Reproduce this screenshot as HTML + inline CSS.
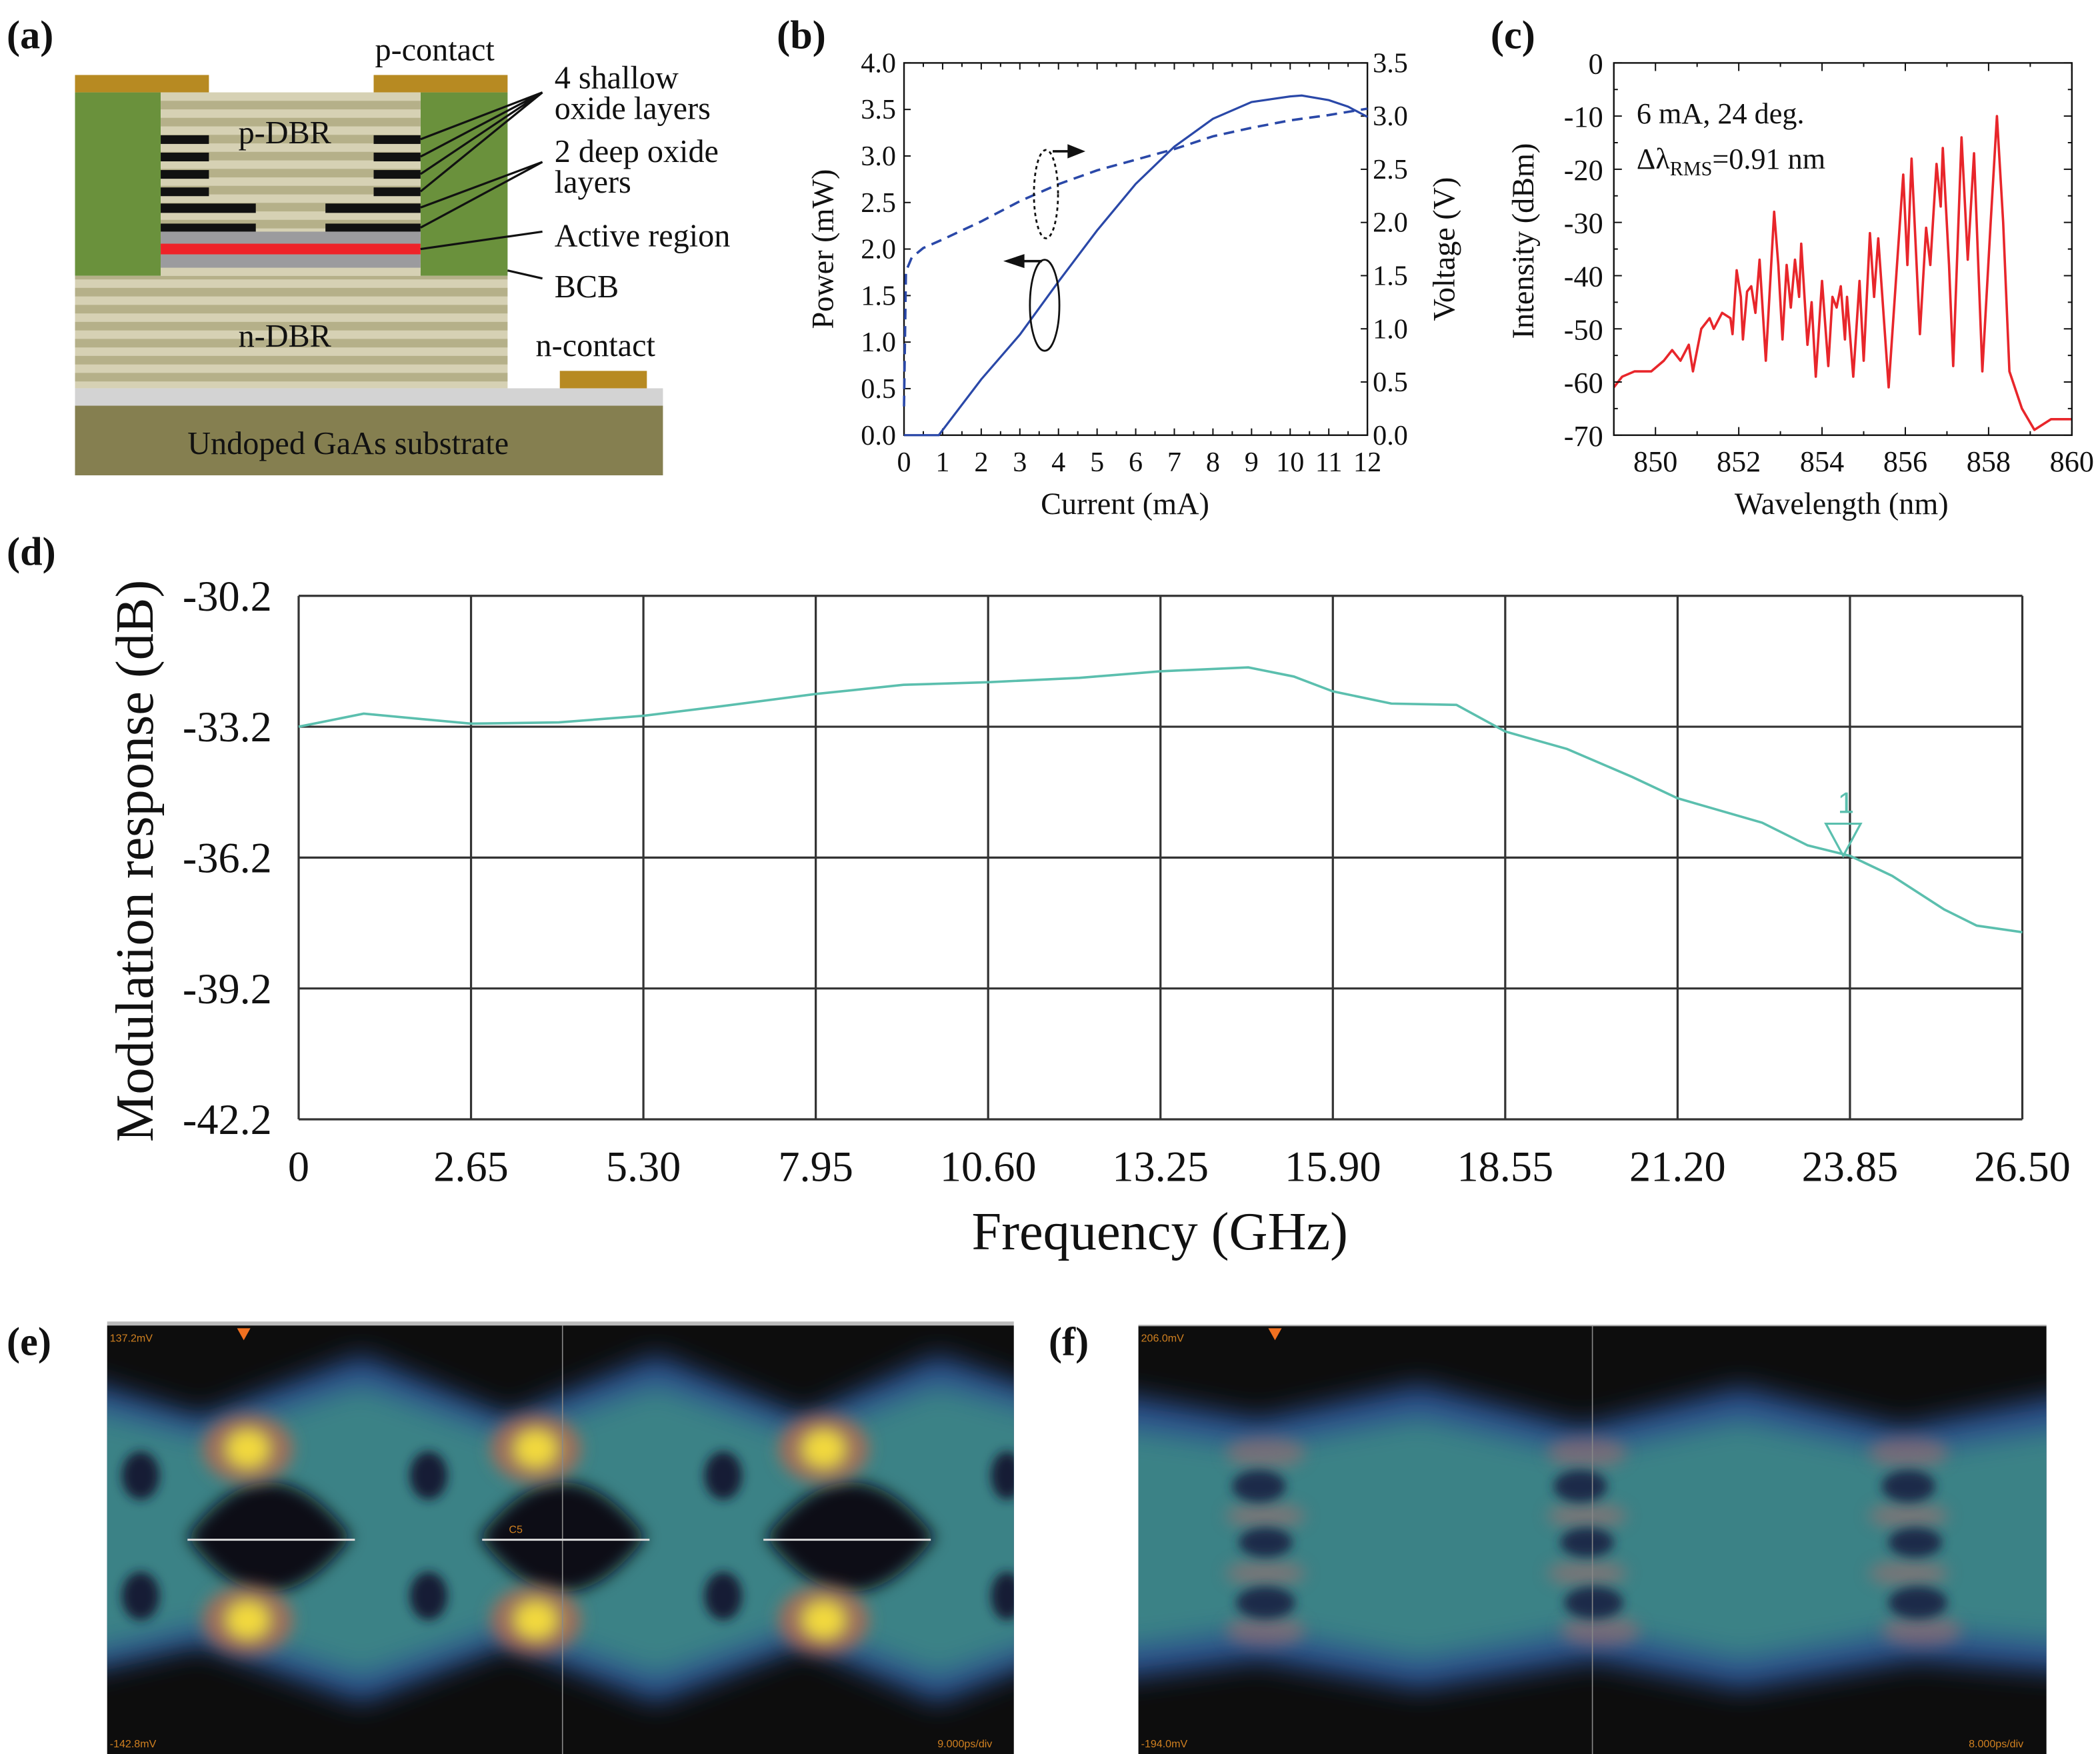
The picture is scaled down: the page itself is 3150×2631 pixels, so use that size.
<!DOCTYPE html>
<html><head><meta charset="utf-8"><style>
html,body{margin:0;padding:0;background:#fff}
svg{display:block}
text{font-family:"Liberation Serif",serif;fill:#111}
</style></head><body>
<svg id="fig" xmlns="http://www.w3.org/2000/svg" width="3150" height="2631" viewBox="0 0 1568 1310" preserveAspectRatio="none">
<defs>
<pattern id="dbr" width="10" height="12.7" patternUnits="userSpaceOnUse" y="69"><rect width="10" height="12.7" fill="#d6d1b4"/><rect y="6.3" width="10" height="6.4" fill="#b5b089"/></pattern>
<filter id="b12" x="-20%" y="-20%" width="140%" height="140%"><feGaussianBlur stdDeviation="10"/></filter>
<filter id="b7" x="-30%" y="-30%" width="160%" height="160%"><feGaussianBlur stdDeviation="6"/></filter>
<filter id="b4" x="-30%" y="-30%" width="160%" height="160%"><feGaussianBlur stdDeviation="4"/></filter>
<clipPath id="ce"><rect x="80" y="990" width="677" height="320"/></clipPath>
<clipPath id="cf"><rect x="850" y="990" width="678" height="320"/></clipPath>
</defs>

<text x="5" y="36" font-size="30" font-weight="bold">(a)</text>
<text x="580" y="36" font-size="30" font-weight="bold">(b)</text>
<text x="1113" y="36" font-size="30" font-weight="bold">(c)</text>
<text x="5" y="422" font-size="30" font-weight="bold">(d)</text>
<text x="5" y="1012" font-size="30" font-weight="bold">(e)</text>
<text x="783" y="1012" font-size="30" font-weight="bold">(f)</text>

<g>
<rect x="56" y="56" width="100" height="13" fill="#b78a22"/>
<rect x="279" y="56" width="100" height="13" fill="#b78a22"/>
<rect x="56" y="69" width="64" height="137" fill="#6a913c"/>
<rect x="314" y="69" width="65" height="137" fill="#6a913c"/>
<rect x="120" y="69" width="194" height="137" fill="url(#dbr)"/>
<rect x="56" y="206" width="323" height="84" fill="url(#dbr)"/>
<g fill="#111">
<rect x="120" y="101" width="36" height="6.5"/><rect x="279" y="101" width="35" height="6.5"/>
<rect x="120" y="114" width="36" height="6.5"/><rect x="279" y="114" width="35" height="6.5"/>
<rect x="120" y="127" width="36" height="6.5"/><rect x="279" y="127" width="35" height="6.5"/>
<rect x="120" y="140" width="36" height="6.5"/><rect x="279" y="140" width="35" height="6.5"/>
</g>
<g fill="#111">
<rect x="120" y="152" width="71" height="7"/><rect x="243" y="152" width="71" height="7"/>
<rect x="120" y="167" width="71" height="6"/><rect x="243" y="167" width="71" height="6"/>
</g>
<rect x="120" y="173" width="194" height="9" fill="#9b9b9e"/>
<rect x="120" y="182" width="194" height="8" fill="#ee2229"/>
<rect x="120" y="190" width="194" height="10" fill="#9b9b9e"/>
<rect x="120" y="200" width="194" height="6" fill="#d6d1b4"/>
<rect x="56" y="290" width="439" height="13" fill="#d3d3d3"/>
<rect x="56" y="303" width="439" height="52" fill="#857f50"/>
<rect x="418" y="277" width="65" height="13" fill="#b78a22"/>
<g stroke="#111" stroke-width="1.6" fill="none">
<path d="M405 69L314 104M405 69L314 117M405 69L314 130M405 69L314 143"/>
<path d="M405 121L314 155M405 121L314 170"/>
<path d="M405 173L314 186"/>
<path d="M405 208L379 202"/>
</g>
<g font-size="24">
<text x="280" y="45">p-contact</text>
<text x="414" y="66">4 shallow</text>
<text x="414" y="89">oxide layers</text>
<text x="414" y="121">2 deep oxide</text>
<text x="414" y="144">layers</text>
<text x="414" y="184">Active region</text>
<text x="414" y="222">BCB</text>
<text x="400" y="266">n-contact</text>
<text x="178" y="107">p-DBR</text>
<text x="178" y="259">n-DBR</text>
<text x="140" y="339">Undoped GaAs substrate</text>
</g>
</g>

<g id="pb"></g>
<g id="pc"></g>
<g id="pd"></g>

<g>
<rect x="80" y="987" width="677" height="3" fill="#bbb"/>
<rect x="80" y="990" width="677" height="320" fill="#0d0d0d"/>
<g clip-path="url(#ce)">
<path filter="url(#b12)" fill="#2c4f8c" d="M60 1030 L150 1058 L270 1012 L380 1058 L490 1012 L600 1058 L700 1012 L780 1040 L780 1240 L700 1272 L600 1229 L490 1272 L380 1229 L270 1272 L150 1229 L60 1250Z"/>
<path filter="url(#b12)" fill="#3a8286" d="M60 1050 L150 1072 L270 1034 L380 1072 L490 1034 L600 1072 L700 1034 L780 1055 L780 1225 L700 1252 L600 1215 L490 1252 L380 1215 L270 1252 L150 1215 L60 1235Z"/>
<g filter="url(#b7)" fill="#0c0c12">
<path d="M140 1148 Q200 1066 262 1148 Q200 1230 140 1148Z"/>
<path d="M358 1148 Q420 1066 482 1148 Q420 1230 358 1148Z"/>
<path d="M572 1148 Q635 1066 698 1148 Q635 1230 572 1148Z"/>
</g>
<g filter="url(#b4)" fill="#121c36">
<ellipse cx="105" cy="1102" rx="14" ry="18"/><ellipse cx="320" cy="1102" rx="14" ry="18"/><ellipse cx="540" cy="1102" rx="14" ry="18"/><ellipse cx="752" cy="1102" rx="12" ry="18"/>
<ellipse cx="105" cy="1192" rx="14" ry="18"/><ellipse cx="320" cy="1192" rx="14" ry="18"/><ellipse cx="540" cy="1192" rx="14" ry="18"/><ellipse cx="752" cy="1192" rx="12" ry="18"/>
</g>
<g filter="url(#b7)">
<g fill="#c86a4a" opacity="0.7">
<ellipse cx="185" cy="1082" rx="34" ry="26"/><ellipse cx="400" cy="1082" rx="34" ry="26"/><ellipse cx="615" cy="1082" rx="34" ry="26"/>
<ellipse cx="185" cy="1210" rx="34" ry="26"/><ellipse cx="400" cy="1210" rx="34" ry="26"/><ellipse cx="615" cy="1210" rx="34" ry="26"/>
</g>
<g fill="#f2d93c">
<ellipse cx="185" cy="1082" rx="16" ry="14"/><ellipse cx="400" cy="1082" rx="16" ry="14"/><ellipse cx="615" cy="1082" rx="16" ry="14"/>
<ellipse cx="185" cy="1210" rx="16" ry="14"/><ellipse cx="400" cy="1210" rx="16" ry="14"/><ellipse cx="615" cy="1210" rx="16" ry="14"/>
</g>
</g>
</g>
<line x1="420" y1="990" x2="420" y2="1310" stroke="#888" stroke-width="0.8"/>
<path d="M140 1150H265M360 1150H485M570 1150H695" stroke="#ddd" stroke-width="1.5"/>
<polygon points="177,992 187,992 182,1001" fill="#f07020"/>
<text x="82" y="1002" font-size="8" fill="#d08020" style="fill:#d08020;font-family:'Liberation Sans',sans-serif">137.2mV</text>
<text x="82" y="1305" font-size="8" style="fill:#d08020;font-family:'Liberation Sans',sans-serif">-142.8mV</text>
<text x="700" y="1305" font-size="8" style="fill:#d08020;font-family:'Liberation Sans',sans-serif">9.000ps/div</text>
<text x="380" y="1145" font-size="8" style="fill:#d08020;font-family:'Liberation Sans',sans-serif">C5</text>
</g>

<g>
<rect x="850" y="990" width="678" height="320" fill="#0d0d0d"/>
<g clip-path="url(#cf)">
<path filter="url(#b12)" fill="#2c4f8c" d="M830 1040 L940 1060 L1060 1034 L1180 1066 L1300 1036 L1420 1066 L1550 1040 L1550 1250 L1430 1240 L1300 1262 L1190 1240 L1060 1262 L940 1240 L830 1255Z"/>
<path filter="url(#b12)" fill="#3a8286" d="M830 1065 L940 1080 L1060 1058 L1180 1085 L1300 1060 L1420 1085 L1550 1065 L1550 1228 L1430 1218 L1300 1240 L1190 1218 L1060 1240 L940 1218 L830 1232Z"/>
<g filter="url(#b7)" fill="#b06a6a" opacity="0.5">
<ellipse cx="945" cy="1085" rx="30" ry="12"/><ellipse cx="1185" cy="1085" rx="30" ry="12"/><ellipse cx="1425" cy="1085" rx="30" ry="12"/>
<ellipse cx="945" cy="1132" rx="30" ry="10"/><ellipse cx="1185" cy="1132" rx="30" ry="10"/><ellipse cx="1425" cy="1132" rx="30" ry="10"/>
<ellipse cx="945" cy="1175" rx="30" ry="10"/><ellipse cx="1185" cy="1175" rx="30" ry="10"/><ellipse cx="1425" cy="1175" rx="30" ry="10"/>
<ellipse cx="945" cy="1218" rx="30" ry="12"/><ellipse cx="1195" cy="1218" rx="30" ry="12"/><ellipse cx="1435" cy="1218" rx="30" ry="12"/>
</g>
<g filter="url(#b4)" fill="#1a2a4a">
<ellipse cx="940" cy="1110" rx="20" ry="12"/><ellipse cx="1180" cy="1110" rx="20" ry="12"/><ellipse cx="1425" cy="1110" rx="20" ry="12"/>
<ellipse cx="945" cy="1152" rx="20" ry="11"/><ellipse cx="1185" cy="1152" rx="20" ry="11"/><ellipse cx="1430" cy="1152" rx="20" ry="11"/>
<ellipse cx="945" cy="1197" rx="22" ry="12"/><ellipse cx="1190" cy="1197" rx="22" ry="12"/><ellipse cx="1432" cy="1197" rx="22" ry="12"/>
</g>
</g>
<line x1="1189" y1="990" x2="1189" y2="1310" stroke="#888" stroke-width="0.8"/>
<line x1="850" y1="990" x2="1528" y2="990" stroke="#aaa" stroke-width="1"/>
<polygon points="947,992 957,992 952,1001" fill="#f07020"/>
<text x="852" y="1002" font-size="8" style="fill:#d08020;font-family:'Liberation Sans',sans-serif">206.0mV</text>
<text x="852" y="1305" font-size="8" style="fill:#d08020;font-family:'Liberation Sans',sans-serif">-194.0mV</text>
<text x="1470" y="1305" font-size="8" style="fill:#d08020;font-family:'Liberation Sans',sans-serif">8.000ps/div</text>
</g>
</svg>
<script>
const bCurrent = [0,0.9,2,3,4,5,6,7,8,9,10,10.3,11,11.5,12];
const bPower   = [0,0,0.6,1.08,1.65,2.2,2.7,3.1,3.4,3.58,3.64,3.65,3.6,3.53,3.42];
const bVCurrent = [0,0.05,0.2,0.5,1,2,3,4,5,6,7,8,9,10,11,12];
const bVoltage  = [0.27,1.54,1.67,1.76,1.84,2.01,2.2,2.36,2.49,2.59,2.69,2.81,2.89,2.96,3.01,3.07];
const bXTicks = [0,1,2,3,4,5,6,7,8,9,10,11,12];
const bYTicks = ['0.0','0.5','1.0','1.5','2.0','2.5','3.0','3.5','4.0'];
const bRTicks = ['0.0','0.5','1.0','1.5','2.0','2.5','3.0','3.5'];
const cWave = [849.0,849.2,849.5,849.9,850.2,850.4,850.6,850.8,850.9,851.1,851.3,851.4,851.6,851.8,851.85,851.95,852.05,852.1,852.2,852.3,852.4,852.5,852.65,852.85,852.95,853.05,853.15,853.25,853.35,853.45,853.5,853.65,853.75,853.85,854.0,854.15,854.25,854.35,854.45,854.55,854.6,854.75,854.9,855.0,855.15,855.25,855.35,855.6,855.8,855.95,856.05,856.15,856.35,856.5,856.6,856.75,856.85,856.9,857.05,857.15,857.35,857.5,857.65,857.85,858.05,858.2,858.35,858.5,858.8,859.1,859.5,860.0];
const cInt  = [-61,-59,-58,-58,-56,-54,-56,-53,-58,-50,-48,-50,-47,-48,-51,-39,-44,-52,-43,-42,-47,-37,-56,-28,-38,-52,-38,-46,-37,-44,-34,-53,-45,-59,-41,-57,-44,-46,-42,-52,-44,-59,-41,-56,-32,-44,-33,-61,-38,-21,-38,-18,-51,-31,-38,-19,-27,-16,-38,-57,-14,-37,-17,-58,-30,-10,-30,-58,-65,-69,-67,-67];
const cXTicks = [850,852,854,856,858,860];
const cYTicks = [0,-10,-20,-30,-40,-50,-60,-70];
const dFreq = [0,1,2.65,4,5.3,6.5,7.95,9.3,10.6,12,13.25,14.6,15.3,15.9,16.8,17.8,18.55,19.5,20.5,21.2,22.5,23.2,23.85,24.5,25.3,25.8,26.5];
const dResp = [-33.2,-32.9,-33.13,-33.1,-32.95,-32.73,-32.45,-32.24,-32.18,-32.08,-31.93,-31.84,-32.05,-32.39,-32.67,-32.7,-33.31,-33.71,-34.35,-34.84,-35.4,-35.92,-36.16,-36.62,-37.39,-37.76,-37.91];
const dXTicks = ['0','2.65','5.30','7.95','10.60','13.25','15.90','18.55','21.20','23.85','26.50'];
const dYTicks = ['-30.2','-33.2','-36.2','-39.2','-42.2'];
const dMarkerFreq = 23.85;

const NS='http://www.w3.org/2000/svg';
function mk(tag, attrs, parent, txt){const e=document.createElementNS(NS,tag);for(const k in attrs)e.setAttribute(k,attrs[k]);if(txt!==undefined)e.textContent=txt;parent.appendChild(e);return e;}
function pathD(xs,ys,fx,fy){return xs.map((v,i)=>(i?'L':'M')+fx(v).toFixed(2)+' '+fy(ys[i]).toFixed(2)).join('');}

(function(){
const g=document.getElementById('pb');
const X0=675,X1=1021,Y0=47,Y1=325;
const xb=c=>X0+c/12*(X1-X0), yL=p=>Y1-p/4*(Y1-Y0), yR=v=>Y1-v/3.5*(Y1-Y0);
let e=mk('rect',{x:X0,y:Y0,width:X1-X0,height:Y1-Y0,fill:'none',stroke:'#111','stroke-width':1.2},g);


for(let i=0;i<=24;i++){const c=i/2,x=xb(c),L=i%2?3:5;mk('path',{d:`M${x} ${Y1}v${-L}M${x} ${Y0}v${L}`,stroke:'#111','stroke-width':1},g);}
bXTicks.forEach(t=>{e=mk('text',{x:xb(t),y:352,'font-size':21,'text-anchor':'middle'},g,String(t));

});
bYTicks.forEach(t=>{const y=yL(parseFloat(t));mk('path',{d:`M${X0} ${y}h5`,stroke:'#111'},g);
e=mk('text',{x:669,y:y+7,'font-size':21,'text-anchor':'end'},g,t);

});
bRTicks.forEach(t=>{const y=yR(parseFloat(t));mk('path',{d:`M${X1} ${y}h-5`,stroke:'#111'},g);
e=mk('text',{x:1025,y:y+7,'font-size':21},g,t);

});
e=mk('path',{d:pathD(bCurrent,bPower,xb,yL),fill:'none',stroke:'#2a48a8','stroke-width':1.6},g);


e=mk('path',{d:pathD(bVCurrent,bVoltage,xb,yR),fill:'none',stroke:'#2a48a8','stroke-width':1.8,'stroke-dasharray':'8 5'},g);


e=mk('ellipse',{cx:781,cy:145,rx:9,ry:33,fill:'none',stroke:'#111','stroke-width':1.4,'stroke-dasharray':'2.5 2.5'},g);


e=mk('path',{d:'M786 113H800M798 109L808 113L798 117Z',stroke:'#111','stroke-width':1.8,fill:'#111'},g);


e=mk('ellipse',{cx:780,cy:228,rx:11,ry:34,fill:'none',stroke:'#111','stroke-width':1.4},g);


e=mk('path',{d:'M778 195H762M764 191L752 195L764 199Z',stroke:'#111','stroke-width':1.8,fill:'#111'},g);


e=mk('text',{x:0,y:0,'font-size':23,'text-anchor':'middle',transform:'translate(622 186) rotate(-90)'},g,'Power (mW)');


e=mk('text',{x:0,y:0,'font-size':23,'text-anchor':'middle',transform:'translate(1086 186) rotate(-90)'},g,'Voltage (V)');


e=mk('text',{x:840,y:384,'font-size':23,'text-anchor':'middle'},g,'Current (mA)');


})();

(function(){
const g=document.getElementById('pc');
const X0=1205,X1=1547,Y0=47,Y1=325;
const xc=w=>X0+(w-849)/11*(X1-X0), yc=d=>Y0+(-d)/70*(Y1-Y0);
let e=mk('path',{d:pathD(cWave,cInt,xc,yc),fill:'none',stroke:'#e8262b','stroke-width':1.8,'stroke-linejoin':'round'},g);


e=mk('rect',{x:X0,y:Y0,width:X1-X0,height:Y1-Y0,fill:'none',stroke:'#111','stroke-width':1.2},g);


for(let w=849;w<=860;w++){const x=xc(w),L=(w%2===0)?6:3;mk('path',{d:`M${x} ${Y1}v${-L}M${x} ${Y0}v${L}`,stroke:'#111'},g);}
for(let d=0;d>=-70;d-=5){const y=yc(d),L=(d%10===0)?6:3;mk('path',{d:`M${X0} ${y}h${L}M${X1} ${y}h${-L}`,stroke:'#111'},g);}
cXTicks.forEach(t=>{e=mk('text',{x:xc(t),y:352,'font-size':22,'text-anchor':'middle'},g,String(t));

});
cYTicks.forEach(t=>{e=mk('text',{x:1197,y:yc(t)+8,'font-size':22,'text-anchor':'end'},g,String(t));

});
e=mk('text',{x:0,y:0,'font-size':23,'text-anchor':'middle',transform:'translate(1145 180) rotate(-90)'},g,'Intensity (dBm)');


e=mk('text',{x:1375,y:384,'font-size':23,'text-anchor':'middle'},g,'Wavelength (nm)');


e=mk('text',{x:1222,y:92,'font-size':22},g,'6 mA, 24 deg.');


e=mk('text',{x:1222,y:126,'font-size':22},g);


mk('tspan',{},e,'Δλ');mk('tspan',{dy:5,'font-size':15},e,'RMS');mk('tspan',{dy:-5},e,'=0.91 nm');
})();

(function(){
const g=document.getElementById('pd');
const X0=223,X1=1510,Y0=445,Y1=836;
const xd=f=>X0+f/26.5*(X1-X0), yd=v=>Y0+(-30.2-v)/12*(Y1-Y0);
let e;
dXTicks.forEach(t=>{const x=xd(parseFloat(t));e=mk('line',{x1:x,y1:Y0,x2:x,y2:Y1,stroke:'#333','stroke-width':1.6},g);


e=mk('text',{x:x,y:882,'font-size':32,'text-anchor':'middle'},g,t);

});
dYTicks.forEach(t=>{const y=yd(parseFloat(t));e=mk('line',{x1:X0,y1:y,x2:X1,y2:y,stroke:'#333','stroke-width':1.6},g);


e=mk('text',{x:203,y:y+11,'font-size':32,'text-anchor':'end'},g,t);

});
e=mk('path',{d:pathD(dFreq,dResp,xd,yd),fill:'none',stroke:'#5bbfae','stroke-width':1.8},g);


let mv=dResp[0];for(let i=1;i<dFreq.length;i++){if(dFreq[i]>=dMarkerFreq){const t=(dMarkerFreq-dFreq[i-1])/(dFreq[i]-dFreq[i-1]);mv=dResp[i-1]+t*(dResp[i]-dResp[i-1]);break;}}
const mx=xd(dMarkerFreq)-5,my=yd(mv);
e=mk('path',{d:`M${mx} ${my}L${mx-13} ${my-24}H${mx+13}Z`,fill:'none',stroke:'#5bbfae','stroke-width':1.6},g);


e=mk('text',{x:mx+2,y:my-32,'font-size':22,'text-anchor':'middle',style:'fill:#5bbfae;font-family:"Liberation Sans",sans-serif'},g,'1');


e=mk('text',{x:0,y:0,'font-size':40,'text-anchor':'middle',transform:'translate(114 643) rotate(-90)'},g,'Modulation response (dB)');


e=mk('text',{x:866,y:933,'font-size':40,'text-anchor':'middle'},g,'Frequency (GHz)');


})();
</script>
</body></html>
